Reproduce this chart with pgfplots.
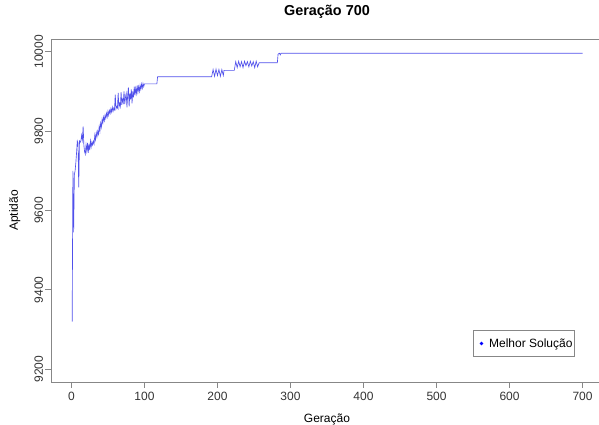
\documentclass[border=0pt]{standalone}
\usepackage{fontspec}
\setmainfont{Liberation Sans}
\usepackage{pgfplots}
\pgfplotsset{compat=1.18}
\definecolor{axgray}{RGB}{135,135,135}
\definecolor{lineblue}{RGB}{80,80,235}
\begin{document}
\begin{tikzpicture}
\begin{axis}[
 scale only axis, width=552pt, height=343pt,
 xmin=-28, xmax=728, ymin=9168, ymax=10032,
 xtick={0,100,...,700}, ytick={9200,9400,...,10000},
 scaled y ticks=false, scaled x ticks=false,
 tick align=outside, major tick length=6pt,
 xtick pos=bottom, ytick pos=left,
 axis line style={axgray, line width=0.8pt},
 tick style={axgray, line width=0.8pt},
 /pgf/number format/assume math mode=true,
 /pgf/number format/1000 sep={},
 tick label style={font=\fontsize{12}{14}\selectfont, text=black!80},
 yticklabel style={xshift=-2pt, rotate=90, anchor=base, inner sep=0pt},
 xticklabel style={anchor=base, inner sep=0pt, yshift=-13pt},
 title={Geração 700},
 title style={font=\bfseries\fontsize{14.4}{16}\selectfont, at={(0.5,1)}, anchor=base, yshift=17pt, inner sep=0pt},
 xlabel={Geração}, ylabel={Aptidão},
 every axis x label/.style={at={(axis description cs:0.5,0)}, anchor=base, yshift=-41pt, inner sep=0pt, font=\fontsize{12}{14}\selectfont},
 every axis y label/.style={at={(axis description cs:0,0.5)}, xshift=-33pt, rotate=90, anchor=base, inner sep=0pt, font=\fontsize{12}{14}\selectfont},
 legend style={at={(rel axis cs:0.764,0.1516)}, anchor=north west, draw=axgray, line width=0.8pt, inner xsep=0pt, inner ysep=6pt, font=\fontsize{12}{14}\selectfont},
]
\coordinate (bl) at (rel axis cs:0,0);
\coordinate (tr) at (rel axis cs:1,1);
\addplot[lineblue, line width=0.65pt,
 legend image code/.code={\fill[blue, draw=none] (0pt,0pt) circle (1.9pt); \path[draw=none, fill=none] (-8.3pt,0pt) -- (5.7pt,0pt);}] table {
x y
1 9320
2 9700
3 9545
4 9690
5 9700
6 9720
7 9745
8 9775
9 9770
10 9658
11 9775
12 9772
13 9776
14 9790
15 9778
16 9812
17 9765
18 9748
19 9742
20 9765
21 9750
22 9770
23 9745
24 9768
25 9752
26 9775
27 9760
28 9772
29 9765
30 9775
31 9768
32 9790
33 9778
34 9796
35 9786
36 9800
37 9792
38 9812
39 9800
40 9820
41 9810
42 9830
43 9820
44 9835
45 9826
46 9840
47 9832
48 9845
49 9836
50 9850
51 9840
52 9852
53 9845
54 9856
55 9848
56 9860
57 9850
58 9858
59 9854
60 9892
61 9856
62 9862
63 9858
64 9896
65 9860
66 9870
67 9862
68 9898
69 9866
70 9880
71 9872
72 9900
73 9868
74 9885
75 9895
76 9860
77 9890
78 9910
79 9862
80 9895
81 9880
82 9905
83 9870
84 9900
85 9885
86 9912
87 9890
88 9908
89 9895
90 9915
91 9898
92 9912
93 9900
94 9915
95 9905
96 9918
97 9908
98 9920
99 9912
100 9919
117 9919
118 9937
192 9937
194 9955
196 9938
198 9956
200 9940
202 9955
204 9938
206 9955
208 9940
209 9953
223 9953
225 9975
227 9960
229 9976
231 9962
233 9975
235 9960
237 9976
239 9965
241 9975
243 9962
245 9976
247 9964
249 9975
251 9960
253 9976
255 9962
257 9972
282 9972
283 9994
285 9996
286 9992
287 9996
700 9996
};
\addlegendentry{Melhor Solução}
\end{axis}
\pgfresetboundingbox
\path[use as bounding box] ([xshift=-51pt,yshift=-43pt]bl) rectangle ([xshift=-4pt,yshift=39pt]tr);
\end{tikzpicture}
\end{document}
